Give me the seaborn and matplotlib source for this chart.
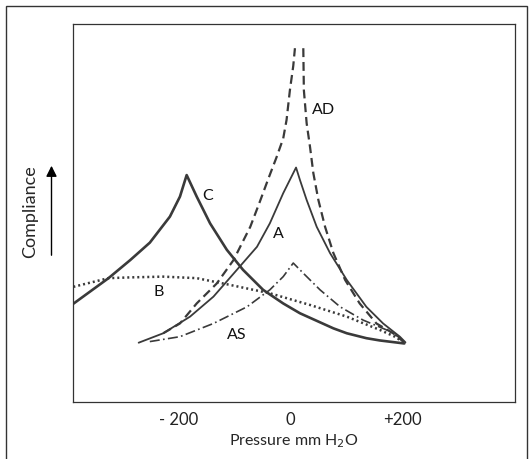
import numpy as np
import pandas as pd
import matplotlib
matplotlib.use('Agg')
import matplotlib.pyplot as plt
from matplotlib.patches import Rectangle
import seaborn as sns

# pressure (mm H2O) / compliance (arbitrary units)
c_x = [-392, -326, -287, -252, -216, -198, -186, -168, -144, -114, -85, -49, -13, 17, 77, 101, 136, 160, 204]
c_y = [2.57, 3.28, 3.76, 4.22, 4.91, 5.44, 6.01, 5.44, 4.73, 4.03, 3.50, 2.97, 2.61, 2.35, 1.95, 1.82, 1.69, 1.63, 1.55]

a_x = [-272, -228, -180, -138, -96, -60, -37, -13, 10, 17, 29, 47, 71, 101, 136, 166, 196, 206]
a_y = [1.57, 1.82, 2.26, 2.79, 3.50, 4.11, 4.73, 5.53, 6.21, 5.88, 5.35, 4.64, 3.94, 3.23, 2.52, 2.08, 1.73, 1.58]

ad_left_x = [-228, -198, -168, -132, -102, -72, -55, -40, -25, -13, -7, -1, 5, 8]
ad_left_y = [1.82, 2.08, 2.61, 3.14, 3.76, 4.64, 5.30, 5.90, 6.48, 6.98, 7.47, 8.26, 8.90, 9.37]
ad_right_x = [23, 24, 29, 35, 41, 50, 62, 77, 98, 124, 154, 184, 204]
ad_right_y = [9.37, 8.26, 7.38, 6.76, 6.06, 5.35, 4.64, 3.94, 3.23, 2.61, 2.08, 1.82, 1.58]

as_x = [-252, -198, -138, -78, -37, -13, 5, 23, 53, 89, 130, 172, 193, 203]
as_y = [1.60, 1.73, 2.08, 2.52, 2.97, 3.32, 3.68, 3.41, 2.97, 2.52, 2.17, 1.91, 1.73, 1.58]

b_x = [-389, -326, -287, -228, -168, -108, -37, 35, 101, 160, 187, 203]
b_y = [3.05, 3.28, 3.30, 3.32, 3.28, 3.10, 2.88, 2.57, 2.26, 1.91, 1.73, 1.58]

curve_labels = ['C', 'A', 'AD', 'B', 'AS']
label_x = [-148, -22, 59, -236, -96]
label_y = [5.46, 4.46, 7.73, 2.92, 1.78]

tick_pos = [-200, 0, 200]
tick_text = ['- 200', '0', '+200']

sns.set_style('white')
plt.rcParams['font.family'] = ['Lato', 'DejaVu Sans']

fig = plt.figure(figsize=(5.31, 4.59), dpi=100)
ax = fig.add_axes([0.1371, 0.1242, 0.8335, 0.8226])

col = '#3a3a3a'
sns.lineplot(x=c_x, y=c_y, ax=ax, sort=False, estimator=None, color=col, lw=1.9)
sns.lineplot(x=a_x, y=a_y, ax=ax, sort=False, estimator=None, color=col, lw=1.3)
sns.lineplot(x=ad_left_x, y=ad_left_y, ax=ax, sort=False, estimator=None, color=col, lw=1.6,
             dashes=False, linestyle=(0, (4, 2.2)))
sns.lineplot(x=ad_right_x, y=ad_right_y, ax=ax, sort=False, estimator=None, color=col, lw=1.6,
             dashes=False, linestyle=(0, (4, 2.2)))
sns.lineplot(x=as_x, y=as_y, ax=ax, sort=False, estimator=None, color=col, lw=1.2,
             dashes=False, linestyle=(0, (6, 2, 1, 2)))
sns.lineplot(x=b_x, y=b_y, ax=ax, sort=False, estimator=None, color=col, lw=1.8,
             dashes=False, linestyle=(0, (0.8, 1.2)))

for t, lx, ly in zip(curve_labels, label_x, label_y):
    ax.text(lx, ly, t, fontsize=11.5, ha='center', va='center', color='#111111')

ax.set_xlim(-390, 403)
ax.set_ylim(0, 10)
ax.set_xticks(tick_pos)
ax.set_xticklabels(tick_text, fontsize=12)
ax.set_yticks([])
ax.tick_params(axis='x', direction='in', length=5.5, width=0.8, pad=7, colors='#222222')
for s in ax.spines.values():
    s.set_color('#333333')
    s.set_linewidth(0.9)
ax.set_xlabel('Pressure mm H$_2$O', fontsize=11.5, labelpad=3)
ax.set_ylabel('')

fig.text(30.5 / 531, 247 / 459, 'Compliance', rotation=90, fontsize=13,
         ha='center', va='center')
ax.annotate('', xy=(51.5, 296), xytext=(51.5, 201), xycoords='figure pixels',
            textcoords='figure pixels',
            arrowprops=dict(arrowstyle='-|>', lw=1.0, color='black', mutation_scale=16))

fig.patches.append(Rectangle((6 / 531, -0.05), 521 / 531, (453 / 459) + 0.05,
                             transform=fig.transFigure, fill=False, lw=1.0,
                             edgecolor='#333333', figure=fig))

fig.savefig('out.png', dpi=100)
